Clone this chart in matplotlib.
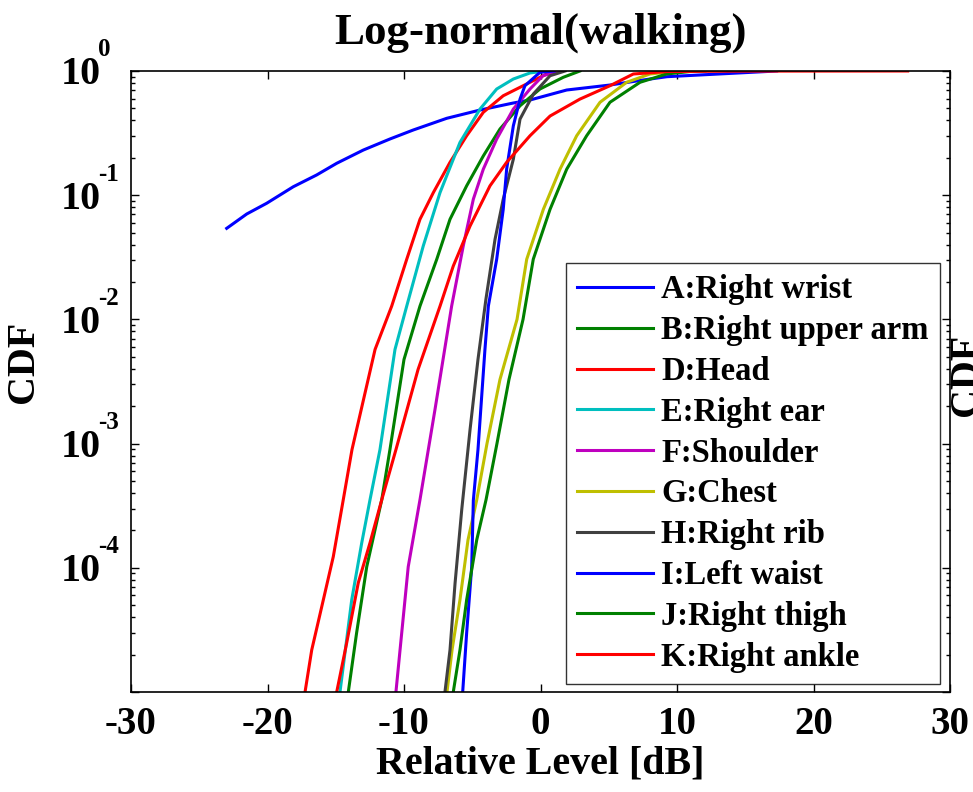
import matplotlib
matplotlib.use("Agg")
import matplotlib.pyplot as plt
import matplotlib.transforms as mtransforms
from matplotlib.ticker import LogLocator, NullFormatter

plt.rcParams['font.family'] = ['Liberation Serif', 'DejaVu Serif']
plt.rcParams['font.weight'] = 'bold'
plt.rcParams['axes.unicode_minus'] = False

# relative level [dB] read at each CDF level, one list pair per body position
a_db = [-22.99, -21.52, -20.06, -18.11, -16.40, -14.93, -12.98, -11.03, -9.32,
        -6.87, -4.43, -2.01, -0.77, 1.92, 5.09, 7.51, 9.27, 11.68, 17.3]
a_cdf = [0.0541, 0.0706, 0.0861, 0.117, 0.1455, 0.1807, 0.231, 0.2835, 0.335,
         0.416, 0.485, 0.552, 0.584, 0.703, 0.771, 0.846, 0.90, 0.929, 1.0]

b_db = [-14.08, -13.47, -12.73, -11.63, -11.03, -10.0, -8.83, -7.60, -6.63,
        -5.41, -4.19, -2.97, -1.50, -0.04, 1.67, 2.89]
b_cdf = [1e-5, 3e-5, 1.02e-4, 3.53e-4, 8.95e-4, 4.76e-3, 0.0128, 0.0305, 0.064,
         0.119, 0.207, 0.341, 0.525, 0.716, 0.89, 1.0]

d_db = [-17.25, -16.76, -15.91, -15.18, -14.45, -13.81, -12.12, -10.90, -9.80,
        -8.83, -7.85, -6.63, -5.41, -4.19, -2.73, -0.77, 0.45, 1.43]
d_cdf = [1e-5, 2.18e-5, 5.52e-5, 1.23e-4, 3.53e-4, 8.95e-4, 5.73e-3, 0.0128,
         0.0305, 0.064, 0.105, 0.184, 0.301, 0.465, 0.632, 0.811, 0.946, 1.0]

e_db = [-14.69, -13.83, -13.10, -12.49, -11.76, -10.66, -9.80, -8.59, -7.36,
        -5.90, -4.43, -3.21, -1.99, -0.77, 0.33]
e_cdf = [1e-5, 5.52e-5, 1.58e-4, 3.53e-4, 8.95e-4, 5.73e-3, 0.0128, 0.039,
         0.105, 0.266, 0.494, 0.716, 0.862, 0.964, 1.0]

f_db = [-10.59, -10.29, -9.69, -8.83, -7.73, -6.51, -5.66, -4.92, -4.19, -3.21,
        -1.99, -0.77, 0.18, 1.4]
f_cdf = [1e-5, 2.18e-5, 1.02e-4, 3.53e-4, 1.88e-3, 0.0128, 0.039, 0.0929,
         0.162, 0.283, 0.494, 0.716, 0.916, 1.0]

g_db = [-6.85, -6.48, -5.90, -5.31, -4.67, -3.92, -2.97, -1.72, -1.01, 0.21,
        1.43, 2.65, 4.36, 6.31, 8.02, 9.73, 10.95]
g_cdf = [1e-5, 2.18e-5, 5.52e-5, 1.68e-4, 3.53e-4, 1e-3, 3.28e-3, 0.01, 0.0305,
         0.077, 0.162, 0.301, 0.56, 0.811, 0.946, 0.99, 1.0]

h_db = [-7.0, -6.63, -6.26, -5.77, -5.16, -4.58, -4.0, -3.33, -2.73, -1.99,
        -1.50, -0.52, 0.70, 1.8]
h_cdf = [1e-5, 2.18e-5, 7.5e-5, 2.94e-4, 1.3e-3, 4.76e-3, 0.0145, 0.0442,
         0.0929, 0.195, 0.41, 0.653, 0.916, 1.0]

i_db = [-5.70, -5.41, -5.04, -4.92, -4.58, -4.07, -3.82, -3.21, -2.73, -2.48,
        -1.99, -1.50, -1.14, -0.04, 1.0]
i_cdf = [1e-5, 2.99e-5, 1.02e-4, 3.5e-4, 8.95e-4, 5.73e-3, 0.0128, 0.0305,
         0.077, 0.162, 0.362, 0.594, 0.761, 0.976, 1.0]

j_db = [-6.39, -5.90, -5.41, -4.67, -3.99, -3.19, -2.31, -1.28, -0.53, 0.70,
        1.92, 3.38, 5.09, 7.29, 9.24, 10.95, 12.05]
j_cdf = [1e-5, 2.18e-5, 5.52e-5, 1.68e-4, 3.53e-4, 1e-3, 3.28e-3, 0.01, 0.0305,
         0.077, 0.162, 0.301, 0.56, 0.811, 0.946, 0.99, 1.0]

k_db = [-14.93, -14.20, -13.35, -12.49, -11.63, -10.59, -8.97, -7.36, -6.39,
        -5.16, -3.70, -2.48, -0.77, 0.70, 2.89, 5.09, 6.80, 9.27, 15.0, 26.9]
k_cdf = [1e-5, 2.48e-5, 7.57e-5, 1.59e-4, 3.53e-4, 8.95e-4, 3.95e-3, 0.0128,
         0.0269, 0.0565, 0.119, 0.184, 0.301, 0.434, 0.594, 0.761, 0.946, 0.99,
         0.998, 1.0]

labels = ['A:Right wrist', 'B:Right upper arm', 'D:Head', 'E:Right ear',
          'F:Shoulder', 'G:Chest', 'H:Right rib', 'I:Left waist',
          'J:Right thigh', 'K:Right ankle']
series = [(a_db, a_cdf), (b_db, b_cdf), (d_db, d_cdf), (e_db, e_cdf),
          (f_db, f_cdf), (g_db, g_cdf), (h_db, h_cdf), (i_db, i_cdf),
          (j_db, j_cdf), (k_db, k_cdf)]
colors = [(0, 0, 1), (0, 0.5, 0), (1, 0, 0), (0, 0.75, 0.75), (0.75, 0, 0.75),
          (0.75, 0.75, 0), (0.25, 0.25, 0.25), (0, 0, 1), (0, 0.5, 0), (1, 0, 0)]

fig = plt.figure(figsize=(9.73, 7.92), dpi=100)
ax = fig.add_axes([131 / 973, 1 - 692 / 792, 819 / 973, 621 / 792])

for (xs, ys), lab, col in zip(series, labels, colors):
    ax.plot(xs, ys, color=col, linewidth=2.2, label=lab)

ax.set_yscale('log')
ax.set_xlim(-30, 30)
ax.set_ylim(1e-5, 1)
ax.set_xticks(range(-30, 31, 10))
ax.yaxis.set_major_locator(LogLocator(base=10, numticks=10))
ax.yaxis.set_minor_locator(LogLocator(base=10, subs=range(2, 10), numticks=100))
ax.yaxis.set_minor_formatter(NullFormatter())
ax.tick_params(which='both', direction='in', top=True, right=True, width=1)
ax.tick_params(which='major', length=6)
ax.tick_params(which='minor', length=3)
ax.tick_params(axis='x', labelsize=28, pad=10)
ax.tick_params(axis='y', labelleft=False)
for s in ax.spines.values():
    s.set_linewidth(1.2)

# y tick labels drawn as "10" with a raised exponent
base = mtransforms.blended_transform_factory(ax.transAxes, ax.transData)
down = mtransforms.offset_copy(base, fig=fig, y=-13.5, units='dots')
up = mtransforms.offset_copy(base, fig=fig, y=14.5, units='dots')
for e in range(-4, 1):
    ax.text(-0.0855, 10.0 ** e, '10', transform=down, ha='left',
            va='baseline', fontsize=28.8, fontweight='bold')
    ax.text(-0.0403, 10.0 ** e, str(e), transform=up, ha='left',
            va='baseline', fontsize=18, fontweight='bold')

ax.set_title('Log-normal(walking)', fontsize=32.4, fontweight='bold', pad=20)
ax.set_xlabel('Relative Level [dB]', fontsize=28.8, fontweight='bold')
ax.xaxis.set_label_coords(0.5, -0.086)
ax.set_ylabel('CDF', fontsize=28.8, fontweight='bold')
ax.yaxis.set_label_coords(-0.1087, 0.531)

leg = ax.legend(loc='upper right', bbox_to_anchor=(0.9878, 0.6908),
                borderaxespad=0, fontsize=23.5, frameon=True, fancybox=False,
                labelspacing=0.30, borderpad=0.35, handlelength=2.33,
                handletextpad=0.25)
leg.get_frame().set_edgecolor('black')
leg.get_frame().set_linewidth(1.0)

# label of the neighbouring panel, cut off at the right edge
fig.text(948 / 973, 1 - 375 / 792, 'CDF', rotation=90, ha='left', va='center',
         fontsize=28.8, fontweight='bold')

fig.savefig('out.png', dpi=100)
